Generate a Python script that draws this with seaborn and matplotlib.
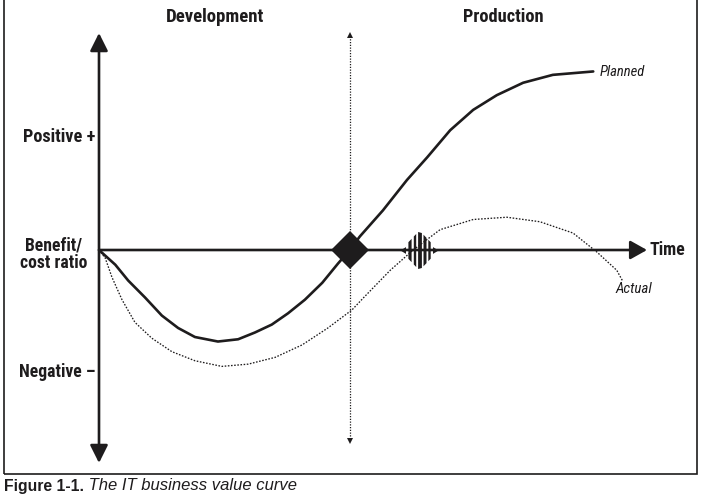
import numpy as np
import pandas as pd
import matplotlib
matplotlib.use("Agg")
import matplotlib.pyplot as plt
import matplotlib.font_manager as fm
from matplotlib.path import Path
from matplotlib.patches import Rectangle
import seaborn as sns

# ---------------- data (time units, benefit/cost units) ----------------
planned_time = [0.00, 0.29, 0.52, 0.82, 1.12, 1.41, 1.71, 2.12, 2.48, 2.78, 3.08, 3.37, 3.67,
                3.98, 4.26, 4.47, 4.65, 5.06, 5.49, 5.85, 6.26, 6.67, 7.09, 7.56, 8.09, 8.81]
planned_value = [0.00, -0.13, -0.27, -0.42, -0.58, -0.69, -0.77, -0.81, -0.79, -0.73, -0.66,
                 -0.56, -0.44, -0.29, -0.12, 0.00, 0.12, 0.35, 0.62, 0.82, 1.06, 1.24, 1.37,
                 1.48, 1.55, 1.58]

actual_time = [0.00, 0.11, 0.23, 0.41, 0.64, 0.94, 1.30, 1.71, 2.19, 2.66, 3.14, 3.62, 4.08,
               4.51, 4.72, 5.19, 5.60, 6.08, 6.67, 7.27, 7.86, 8.45, 8.88, 9.23, 9.34]
actual_value = [0.00, -0.07, -0.24, -0.44, -0.64, -0.78, -0.90, -0.98, -1.03, -1.01, -0.95,
                -0.84, -0.69, -0.53, -0.42, -0.18, 0.00, 0.18, 0.27, 0.29, 0.25, 0.15, -0.02,
                -0.18, -0.28]

planned_breakeven = 4.47
actual_breakeven = 5.70

phase_labels = ["Development", "Production"]
y_labels = ["Positive +", "Benefit/\ncost ratio", "Negative \u2013"]
y_label_values = [1.0, -0.04, -1.08]
series_labels = ["Planned", "Actual"]
x_axis_label = "Time"
caption_bold = "Figure 1-1."
caption_italic = " The IT business value curve"

# ---------------- font choice (condensed sans if available) ----------------
sns.set_theme(style="white")
_entries = fm.fontManager.ttflist
_names = {f.name for f in _entries}
cond_family, cond_stretch = None, "normal"
for cand in ["Liberation Sans Narrow", "Noto Sans Condensed", "Roboto Condensed",
             "Open Sans Condensed", "DejaVu Sans Condensed", "Noto Sans SemiCondensed",
             "Open Sans SemiCondensed", "Roboto SemiCondensed"]:
    if cand in _names:
        cond_family = cand
        break
if cond_family is None:
    for n in sorted(_names):
        if ("Condensed" in n or "Narrow" in n) and "Extra" not in n and "Ultra" not in n \
                and "Mono" not in n and "Serif" not in n:
            cond_family = n
            break
if cond_family is None:
    for f in _entries:
        if str(f.stretch) in ("condensed", "semi-condensed") and "Mono" not in f.name \
                and "Serif" not in f.name:
            cond_family, cond_stretch = f.name, "condensed"
            break
if cond_family is None:
    cond_family = "Roboto"
plt.rcParams["font.family"] = [cond_family, "DejaVu Sans"]

W, H = 702, 500
X0, XS = 99, 56.1      # pixel of time 0, pixels per time unit
Y0, YS = 250, 113      # pixel of value 0, pixels per value unit
INK = "#1e1c1d"

def tx(px):
    return (px - X0) / XS

def vy(py):
    return (Y0 - py) / YS

fig = plt.figure(figsize=(W / 100, H / 100), dpi=100)
ax = fig.add_axes([0, 0, 1, 1])
ax.set_xlim(tx(0), tx(W))
ax.set_ylim(vy(H), vy(0))
ax.axis("off")

# main axes arrows
ax.annotate("", xy=(0, vy(33)), xytext=(0, vy(463)),
            arrowprops=dict(arrowstyle="<|-|>,head_length=0.8,head_width=0.4",
                            mutation_scale=13.5, lw=1.9, color=INK,
                            shrinkA=0, shrinkB=0))
ax.annotate("", xy=(tx(647), 0), xytext=(0, 0),
            arrowprops=dict(arrowstyle="-|>,head_length=0.75,head_width=0.42",
                            mutation_scale=13.5, lw=1.9, color=INK,
                            shrinkA=0, shrinkB=0))

# dotted phase divider
ax.plot([planned_breakeven, planned_breakeven], [vy(36), vy(440)],
        ls=(0, (1.0, 1.2)), lw=0.9, color=INK)
ax.plot([planned_breakeven], [vy(35)], marker="^", ms=5, color=INK, mew=0)
ax.plot([planned_breakeven], [vy(441)], marker="v", ms=5, color=INK, mew=0)

# curves
sns.lineplot(x=planned_time, y=planned_value, ax=ax, color=INK, lw=1.9,
             sort=False, estimator=None)
sns.lineplot(x=actual_time, y=actual_value, ax=ax, color=INK, lw=0.95,
             sort=False, estimator=None, linestyle=(0, (1.2, 1.2)))

# planned break-even diamond
ax.plot([planned_breakeven], [0], marker="D", ms=19.3, color=INK, mew=0, zorder=5)

# actual break-even striped marker
hw, hh = 19.0, 20.0
def env(x):
    return hh * (1 - abs(x) / hw)
verts, codes = [], []
for c, bw in zip([-9.5, -4.5, 0.5, 5.5, 10.0], [3.2, 2.4, 3.8, 3.0, 2.4]):
    x0, x1 = c - bw / 2, c + bw / 2
    poly = [(x0, -env(x0)), (x1, -env(x1)), (x1, env(x1)), (x0, env(x0)), (x0, -env(x0))]
    verts += poly
    codes += [Path.MOVETO, Path.LINETO, Path.LINETO, Path.LINETO, Path.CLOSEPOLY]
for s in [-1, 1]:
    poly = [(s * hw, 0), (s * 13.5, 3.4), (s * 13.5, -3.4), (s * hw, 0)]
    verts += poly
    codes += [Path.MOVETO, Path.LINETO, Path.LINETO, Path.CLOSEPOLY]
verts += [(0, hh), (0, -hh)]
codes += [Path.MOVETO, Path.MOVETO]
striped = Path(verts, codes)
ax.plot([actual_breakeven], [0], marker=striped, ms=28.8, color=INK, mew=0, zorder=5)

# texts
bold = dict(fontweight="bold", color=INK, fontsize=13, fontstretch=cond_stretch)
ital = dict(style="italic", color=INK, fontsize=11, fontstretch=cond_stretch)
texts = []
texts.append((ax.text(tx(215), vy(17), phase_labels[0], ha="center", va="center", **bold), 94))
texts.append((ax.text(tx(503.5), vy(17), phase_labels[1], ha="center", va="center", **bold), 77))
texts.append((ax.text(tx(95), y_label_values[0], y_labels[0], ha="right", va="center", **bold), 69))
texts.append((ax.text(tx(54), y_label_values[1], y_labels[1], ha="center", va="center",
                      linespacing=0.95, **bold), 64))
texts.append((ax.text(tx(95), y_label_values[2], y_labels[2], ha="right", va="center", **bold), 73))
texts.append((ax.text(tx(649), 0, x_axis_label, ha="left", va="center", **bold), 34))
texts.append((ax.text(tx(600), vy(72), series_labels[0], ha="left", va="center", **ital), 43))
texts.append((ax.text(tx(615), vy(289), series_labels[1], ha="left", va="center", **ital), 35))

# frame
fig.add_artist(Rectangle((4 / W, 1 - 474 / H), 693 / W, 480 / H, transform=fig.transFigure,
                         fill=False, lw=1.2, edgecolor=INK))

# caption
cap_font = ["Liberation Sans", "DejaVu Sans"]
t1 = fig.text(4 / W, 1 - 486 / H, caption_bold, fontweight="bold", fontsize=11,
              va="center", ha="left", family=cap_font, color=INK)
t2 = fig.text(0.2, 1 - 486 / H, caption_italic, style="italic", fontsize=11,
              va="center", ha="left", family=cap_font, color=INK)

# fit text widths to the reference widths (pixels)
GROW = 1.05
for _ in range(2):
    fig.canvas.draw()
    r = fig.canvas.get_renderer()
    for t, wpx in texts:
        w = t.get_window_extent(r).width
        t.set_fontsize(min(t.get_fontsize() * GROW * wpx / w, 15))
    w1 = t1.get_window_extent(r).width
    t1.set_fontsize(t1.get_fontsize() * 80 / w1)
    w2 = t2.get_window_extent(r).width
    t2.set_fontsize(t2.get_fontsize() * 214 / w2)
fig.canvas.draw()
bb = t1.get_window_extent(fig.canvas.get_renderer())
t2.set_x(bb.x1 / W)

fig.savefig("out.png", dpi=100)
